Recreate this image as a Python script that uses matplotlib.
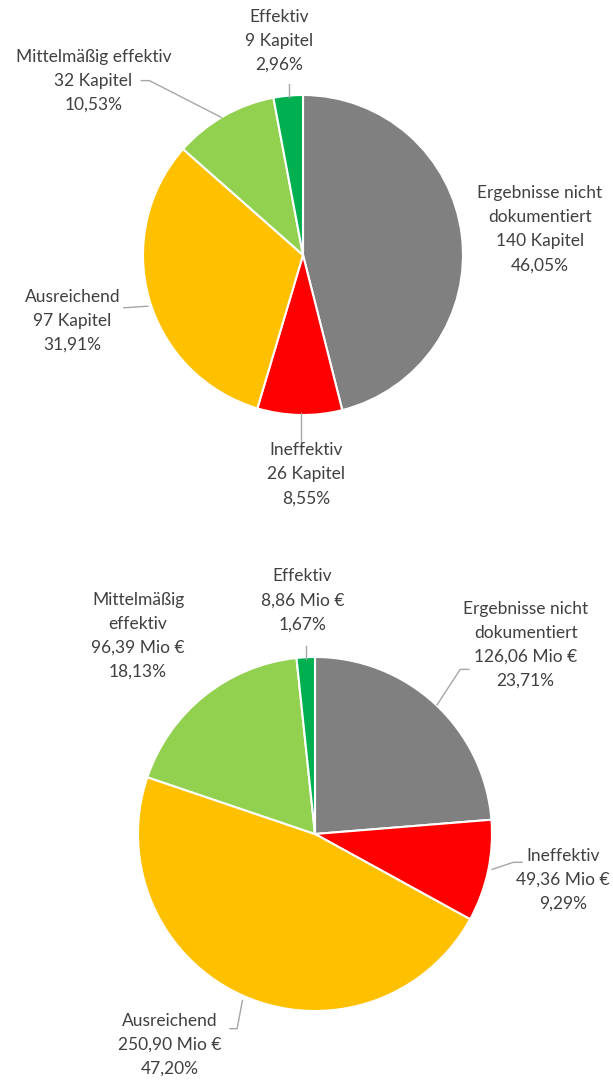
import matplotlib
matplotlib.use("Agg")
import matplotlib.pyplot as plt

# Data
categories = ["Ergebnisse nicht dokumentiert", "Ineffektiv", "Ausreichend",
              "Mittelmäßig effektiv", "Effektiv"]
colors = ["#808080", "#FF0000", "#FFC000", "#92D050", "#00B050"]

kapitel = [140, 26, 97, 32, 9]
kapitel_pct = ["46,05%", "8,55%", "31,91%", "10,53%", "2,96%"]

mio = [126.06, 49.36, 250.90, 96.39, 8.86]
mio_txt = ["126,06 Mio €", "49,36 Mio €", "250,90 Mio €", "96,39 Mio €", "8,86 Mio €"]
mio_pct = ["23,71%", "9,29%", "47,20%", "18,13%", "1,67%"]

W, H = 613, 1080
text_color = "#404040"
line_color = "#A6A6A6"

plt.rcParams['font.family'] = ['Lato', 'DejaVu Sans']

fig = plt.figure(figsize=(W / 100, H / 100), dpi=100)


def pie_axes(cx, cy, r):
    # cx, cy in pixels from top-left, r in pixels
    ax = fig.add_axes([(cx - r) / W, (H - cy - r) / H, 2 * r / W, 2 * r / H])
    ax.set_xlim(-1, 1)
    ax.set_ylim(-1, 1)
    ax.axis("off")
    return ax


def draw_pie(ax, values):
    ax.pie(values, colors=colors, startangle=90, counterclock=False, radius=1,
           wedgeprops=dict(edgecolor="white", linewidth=1.5))
    ax.set_xlim(-1, 1)
    ax.set_ylim(-1, 1)


def label(ax, x, y, txt):
    ax.text(x, y, txt, ha="center", va="center", fontsize=12.5,
            color=text_color, linespacing=1.62, clip_on=False)


def leader(ax, xs, ys):
    ax.plot(xs, ys, color=line_color, linewidth=1, clip_on=False)


# --- Top pie: chapters ---
ax1 = pie_axes(303, 255, 160)
draw_pie(ax1, kapitel)
top_labels = [
    ("Ergebnisse nicht\ndokumentiert", 1.48, 0.16),
    ("Ineffektiv", 0.02, -1.37),
    ("Ausreichend", -1.44, -0.41),
    ("Mittelmäßig effektiv", -1.31, 1.09),
    ("Effektiv", -0.15, 1.34),
]
for i, (name, x, y) in enumerate(top_labels):
    label(ax1, x, y, f"{name}\n{kapitel[i]} Kapitel\n{kapitel_pct[i]}")

leader(ax1, [-0.09, -0.09], [0.99, 1.07])
leader(ax1, [-0.51, -0.96, -1.01], [0.86, 1.09, 1.09])
leader(ax1, [-0.97, -1.12], [-0.32, -0.33])
leader(ax1, [-0.01, -0.01], [-0.99, -1.20])

# --- Bottom pie: money ---
ax2 = pie_axes(315, 834, 177)
draw_pie(ax2, mio)
bottom_labels = [
    ("Ergebnisse nicht\ndokumentiert", 1.19, 1.07),
    ("Ineffektiv", 1.40, -0.26),
    ("Ausreichend", -0.82, -1.19),
    ("Mittelmäßig\neffektiv", -1.00, 1.12),
    ("Effektiv", -0.07, 1.32),
]
for i, (name, x, y) in enumerate(bottom_labels):
    label(ax2, x, y, f"{name}\n{mio_txt[i]}\n{mio_pct[i]}")

leader(ax2, [-0.05, -0.05], [0.99, 1.06])
leader(ax2, [0.69, 0.82, 0.87], [0.73, 0.93, 0.93])
leader(ax2, [1.00, 1.12, 1.17], [-0.20, -0.16, -0.16])
leader(ax2, [-0.41, -0.44, -0.48], [-0.94, -1.10, -1.10])

fig.savefig("out.png", dpi=100, facecolor="white")
